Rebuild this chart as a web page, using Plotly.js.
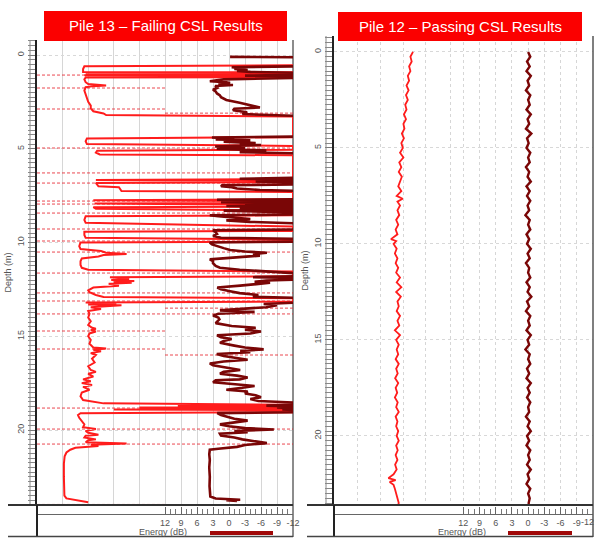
<!DOCTYPE html>
<html>
<head>
<meta charset="utf-8">
<script src="https://cdn.plot.ly/plotly-3.0.1.min.js"></script>
<style>html,body{margin:0;padding:0;background:#fff;}#chart{width:595px;height:539px;}</style>
</head>
<body>
<div id="chart"></div>
<script>
// ---------- DATA ----------
const panelTitles = ["Pile 13 \u2013 Failing CSL Results", "Pile 12 \u2013 Passing CSL Results"];
const depthTicks = [0, 5, 10, 15, 20];
const energyTicks = [12, 9, 6, 3, 0, -3, -6, -9, -12];
const energyTickText = ["12", "9", "6", "3", "0", "-3", "-6", "-9", "-12"];
const energyMinorTicks = [11, 10, 8, 7, 5, 4, 2, 1, -1, -2, -4, -5, -7, -8, -10, -11];

// Pile 13 - first arrival (relative scale 0-10 across the track, 10 = off scale)
const p13FatDepth = [0.55,0.6,0.75,0.9,0.92,0.96,0.98,1.02,1.06,1.08,1.12,1.18,1.2,1.3,1.45,1.55,1.62,1.66,1.72,1.9,2.1,2.3,2.5,2.7,2.85,3.0,3.12,3.2,3.28,
 4.38,4.45,4.6,4.75,4.85,
 5.05,5.1,5.2,5.3,5.35,
 6.62,6.67,6.72,6.78,6.82,6.9,7.0,7.05,7.15,7.25,7.3,
 7.7,7.75,7.8,7.88,7.92,8.0,8.08,8.12,8.2,8.3,
 8.55,8.6,8.8,8.95,9.15,
 9.38,9.42,9.6,9.75,9.85,
 9.95,10.0,10.2,10.35,10.45,10.55,10.62,10.67,10.75,10.85,11.0,11.2,11.35,11.45,11.55,
 11.8,11.85,11.95,12.0,12.05,12.1,12.15,12.2,12.3,12.4,12.55,12.65,12.8,12.9,12.97,
 13.15,13.2,13.25,13.3,13.35,13.45,13.55,13.65,13.8,14.0,14.2,14.4,14.55,14.6,14.68,14.75,14.85,15.0,15.2,15.4,15.6,15.65,15.72,15.8,15.9,16.0,16.2,16.4,16.6,16.8,16.9,17.0,17.15,17.3,17.4,17.5,17.6,17.7,17.85,18.0,18.2,18.4,18.5,18.58,18.65,
 18.72,18.76,18.8,18.85,18.9,18.95,19.05,19.1,19.2,19.35,19.5,19.7,19.85,19.95,20.05,20.15,20.25,20.3,20.4,20.5,20.55,20.65,20.72,20.78,20.85,20.95,21.05,21.2,21.4,21.8,22.5,23.0,23.5,23.65,23.8,23.85];
const p13FatValue = [10,1.85,1.8,1.8,10,10,1.9,10,10,1.85,10,10,1.9,1.85,1.9,2.0,2.7,2.2,1.9,1.85,1.9,1.95,2.0,2.1,2.1,2.2,2.6,2.7,10,
 10,1.95,1.9,1.95,10,
 10,2.35,2.3,2.45,10,
 10,2.3,10,10,2.3,2.35,2.4,3.2,3.25,3.3,10,
 10,2.2,10,10,2.25,10,10,2.2,2.3,10,
 10,1.9,1.85,1.9,10,
 10,1.85,1.85,1.9,10,
 10,1.7,1.65,1.7,2.5,2.7,3.5,2.6,2.4,1.75,1.7,1.7,1.75,2.0,10,
 10,2.85,3.6,2.9,3.8,3.0,3.7,2.8,3.2,2.2,2.0,2.05,2.3,2.6,10,
 10,1.9,3.1,2.0,3.3,2.1,2.5,2.0,2.05,2.0,2.1,2.0,2.15,2.3,2.1,2.3,2.05,2.0,2.1,2.05,2.2,2.7,2.2,2.5,2.1,2.3,2.15,2.25,2.0,2.1,2.3,2.0,2.2,1.8,2.1,1.75,2.15,1.8,2.05,1.75,1.7,1.8,2.3,2.6,10,
 5.5,10,4.0,10,3.0,10,10,1.7,1.6,1.65,1.75,1.85,1.8,2.3,1.9,2.0,2.4,1.9,1.85,2.3,2.0,1.9,3.5,2.1,2.4,1.5,1.3,1.15,1.08,1.05,1.05,1.06,1.07,1.15,1.9,2.0];

// Pile 13 - energy (dB)
const p13EnergyDepth = [0.1,0.12,
 0.6,0.65,0.7,0.75,0.8,0.85,0.9,0.95,1.05,1.1,1.15,1.22,1.3,1.4,1.45,1.5,1.55,1.6,1.65,1.75,1.85,1.95,2.05,2.15,2.25,2.4,2.55,2.7,2.8,2.87,2.95,3.05,3.15,3.25,
 4.35,4.4,4.45,4.5,4.55,4.62,4.7,4.75,4.8,4.88,4.95,5.0,5.1,5.18,5.25,
 6.55,6.6,6.65,6.7,6.75,6.8,6.9,6.95,7.0,7.05,7.12,7.2,7.25,
 7.7,7.72,7.75,7.8,7.85,7.9,7.95,8.0,8.05,8.1,8.15,8.2,8.25,8.3,8.35,8.4,
 8.5,8.55,8.6,8.68,8.75,8.82,8.9,8.98,
 9.3,9.35,9.45,9.55,9.65,9.75,9.8,
 9.95,10.0,10.1,10.2,10.3,10.4,10.48,10.55,10.62,10.7,10.8,10.9,11.0,11.1,11.25,11.35,11.45,11.55,11.65,
 11.8,11.85,11.9,11.98,12.03,12.1,12.15,12.22,12.3,12.4,12.5,12.6,12.7,12.8,12.9,12.95,
 13.2,13.28,13.35,13.45,13.55,13.62,13.7,13.8,13.9,14.0,14.1,14.2,14.3,14.45,14.55,14.65,14.75,14.85,14.95,15.05,15.15,15.25,15.35,15.5,15.6,15.7,15.78,15.85,15.95,16.05,16.15,16.25,16.35,16.45,16.55,16.7,16.8,16.9,17.0,17.1,17.2,17.3,17.35,17.45,17.55,17.65,17.75,17.85,17.95,18.05,18.15,18.25,18.35,18.45,18.55,
 18.65,18.7,18.75,18.8,18.85,18.9,18.95,19.05,19.1,19.2,19.3,19.4,19.5,19.6,19.7,19.8,19.9,19.97,20.05,20.12,20.2,20.3,20.4,20.5,20.6,20.7,20.8,20.9,21.0,21.05,21.3,21.6,22.0,22.5,23.0,23.4,23.55,23.65,23.72,23.75,23.78];
const p13EnergyDb = [-0.2,-13,
 -13,-0.5,-2.5,-1,-3.5,-1.5,-4,-13,-13,-3,-13,-13,1.0,3.6,0.5,-0.2,2.0,-0.75,2.6,2.2,3.0,2.5,2.25,1.7,1.5,0.5,-2.0,-4.0,-5.8,-1.0,-0.75,-3.4,-2.5,-13,
 -13,3.2,-1.0,2.5,-4.0,1.0,-5.0,-2.0,-6.0,2.6,-3.0,2.3,-7.0,-2.0,-13,
 -13,-2.0,-13,-13,-5,-13,-13,1.3,1.5,-0.5,-1.5,-5.8,-13,
 -13,2.25,-13,-9,1.5,-13,-3,-13,0.5,-8,-13,-2,-13,1.0,-6,-13,
 -13,3.6,2.0,-2.0,-4.0,0.5,-3.9,-13,
 -13,3.0,2.5,2.25,3.0,1.5,-13,
 -13,3.6,3.2,2.25,1.0,-0.2,-3,-7.1,-4.5,-5.8,-1,3.6,3.0,3.0,2.5,1.7,-2,-7.1,-13,
 -13,-4.5,-13,-13,-7.0,-4.8,-7.7,-5.5,-2.1,2.2,1.5,-0.2,-2,-5.5,-4.5,-13,
 -13,-6.5,-9.0,-7.0,-1.0,1.7,-4.8,2.0,3.0,2.0,1.8,2.2,2.5,-0.5,-5.0,-3.0,-6.0,-4.0,2.25,1.5,-0.5,1.0,1.7,-1.0,-3.0,-6.5,-2.1,-4.0,2.3,1.0,-1.0,-3.5,1.0,3.6,3.0,-0.5,-2.1,1.0,1.7,-1.5,-3.5,-2.0,2.5,3.0,-1.0,-4.8,-2.5,0.5,-3.5,-3.0,-5.0,-6.0,-4.0,-5.5,-13,
 -13,-7,-13,-9,-13,-10,-13,-13,2.2,1.5,0.0,-1.0,-3.5,-1.0,1.7,0.0,-3.0,-8.4,-1.0,-3.5,1.7,1.5,-1.0,-2.5,-5.0,-7.1,-3.0,-1.5,2.0,3.6,3.7,3.6,3.7,3.6,3.65,3.6,3.5,2.5,-2.1,0.5,-1.5];

// Pile 13 - flagged anomaly depths (m) and the part of the track they cover
const p13FlagDepth = [1.07,1.76,2.88,3.1,4.96,6.29,6.83,7.79,7.95,8.43,9.28,9.92,10.51,11.63,12.69,13.12,13.5,13.81,14.72,15.68,16.0,18.83,19.95,20.75,23.97];
const p13FlagFrom  = [0,0,0,5,0,0,0,0,0,0,0,0,0,0,0,0,5,0,0,0,5,0,0,0,0];
const p13FlagTo    = [10,5,5,10,10,10,10,10,10,10,10,10,10,10,10,10,10,10,5,5,10,10,10,10,5];

// Pile 12 - first arrival
const p12FatDepth = [0,0.25,0.5,0.75,1,1.25,1.5,1.75,2,2.25,2.5,2.75,3,3.25,3.5,3.75,4,4.25,4.5,4.75,5,5.25,5.5,5.75,6,6.25,6.5,6.75,7,7.25,7.5,7.65,7.8,
 8,8.25,8.5,8.75,9,9.25,9.5,9.75,9.85,
 10,10.25,10.5,10.75,11,11.25,11.5,11.75,12,12.25,12.5,12.75,13,13.25,13.5,13.75,14,14.25,14.5,14.75,15,15.25,15.5,15.75,16,16.25,16.5,16.75,17,17.25,17.5,17.75,18,18.25,18.5,18.75,19,19.25,19.5,19.75,20,20.25,20.5,20.75,21,21.25,21.5,21.75,22,
 22.2,22.3,22.4,22.55,22.75,23,23.25,23.5,23.7];
const p12FatValue = [3.05,2.95,3.0,2.9,2.95,2.85,2.9,2.8,2.88,2.78,
 2.85,2.75,2.8,2.7,2.78,2.68,2.72,2.62,2.7,2.6,
 2.66,2.55,2.68,2.52,2.6,2.5,2.62,2.55,2.48,2.6,
 2.42,2.65,2.45,2.55,2.45,2.52,2.4,2.48,2.38,2.45,
 2.2,2.4,2.3,2.42,2.35,2.45,2.38,2.48,2.4,2.55,
 2.42,2.6,2.4,2.58,2.45,2.5,2.42,2.55,2.45,2.52,
 2.35,2.55,2.4,2.5,2.42,2.48,2.38,2.5,2.4,2.46,
 2.36,2.48,2.38,2.44,2.35,2.46,2.4,2.5,2.38,2.45,
 2.4,2.48,2.42,2.5,2.4,2.46,2.38,2.45,2.36,2.42,
 2.3,2.1,2.38,2.15,2.3,2.35,2.4,2.45,2.5,2.45];

// Pile 12 - energy (dB)
const p12EnergyDepth = [0,0.25,0.5,0.75,1,1.25,1.5,1.75,2,2.25,2.5,2.75,3,3.25,3.5,3.75,4,4.25,4.5,4.75,5,5.25,5.5,5.75,
 6,6.25,6.5,6.75,7,7.25,7.5,7.75,8,8.25,8.5,8.75,9,9.25,9.5,9.75,10,10.25,10.5,10.75,11,11.25,11.5,11.75,
 12,12.25,12.5,12.75,13,13.25,13.5,13.75,14,14.25,14.5,14.75,15,15.25,15.5,15.75,16,16.25,16.5,16.75,17,17.25,17.5,17.75,
 18,18.25,18.5,18.75,19,19.25,19.5,19.75,20,20.25,20.5,20.75,21,21.25,21.5,21.75,22,22.25,22.5,22.75,23,23.25,23.5,23.75];
const p12EnergyDb = [0.0,-0.4,0.2,-0.3,0.3,-0.5,0.1,-0.2,0.4,-0.4,0.0,-0.3,
 0.3,-0.5,0.1,-0.2,0.4,-0.6,0.2,-0.1,0.3,-0.4,0.0,-0.3,
 0.4,-0.2,0.1,-0.5,0.3,-0.3,0.2,-0.4,0.1,-0.2,0.5,-0.3,
 0.0,-0.4,0.3,-0.2,0.2,-0.5,0.1,-0.3,0.4,-0.2,0.0,-0.4,
 0.3,-0.3,0.1,-0.6,0.2,-0.2,0.4,-0.4,0.0,-0.3,0.3,-0.5,
 0.1,-0.2,0.5,-0.3,0.0,-0.4,0.2,-0.2,0.3,-0.5,0.1,-0.3,
 0.2,-0.4,0.0,-0.2,0.4,-0.3,0.1,-0.5,0.2,-0.2,0.3,-0.4,
 0.0,-0.3,0.2,-0.5,0.1,-0.2,0.3,-0.4,0.0,-0.3,-0.1,-0.2];

// ---------- STYLE / LAYOUT ----------
const W = 595, H = 539;
const px = v => v / W;
const py = v => 1 - v / H;
const RED = '#ff1c1c', DARK = '#7a0606', GRID = '#d6d6d6', TXT = '#555';
const FONT = 'Liberation Sans, Arial, sans-serif';

const flagX = [], flagY = [];
p13FlagDepth.forEach((d, i) => { flagX.push(p13FlagFrom[i], p13FlagTo[i], null); flagY.push(d, d, null); });

const traces = [
  {x: flagX, y: flagY, xaxis: 'x', yaxis: 'y', mode: 'lines', hoverinfo: 'skip',
   line: {color: 'rgba(232,40,50,0.85)', width: 1, dash: '3px,2px'}},
  {x: p13FatValue, y: p13FatDepth, xaxis: 'x', yaxis: 'y', mode: 'lines', line: {color: RED, width: 2}},
  {x: p13EnergyDb, y: p13EnergyDepth, xaxis: 'x2', yaxis: 'y', mode: 'lines', line: {color: DARK, width: 2.6}},
  {x: p12FatValue, y: p12FatDepth, xaxis: 'x3', yaxis: 'y2', mode: 'lines', line: {color: RED, width: 1.8}},
  {x: p12EnergyDb, y: p12EnergyDepth, xaxis: 'x4', yaxis: 'y2', mode: 'lines', line: {color: DARK, width: 2.4}}
];

function fatAxis(dom, grid, dash, anchor) {
  return {domain: dom, range: [0, 10], anchor: anchor, tickmode: 'array', tickvals: grid,
    showticklabels: false, ticks: '', showgrid: true, gridcolor: GRID, gridwidth: 1, griddash: dash,
    zeroline: false, showline: false, fixedrange: true};
}
function energyAxis(over, range, dash, labels) {
  return {overlaying: over, range: range, anchor: 'free', position: py(514),
    tickmode: 'array', tickvals: energyTicks, ticktext: labels,
    ticks: 'inside', ticklen: 7, tickcolor: '#666', tickwidth: 1,
    tickfont: {family: FONT, size: 9, color: TXT},
    minor: {tickmode: 'array', tickvals: energyMinorTicks, ticks: 'inside', ticklen: 5, tickcolor: '#777', showgrid: false},
    showgrid: true, gridcolor: GRID, gridwidth: 1, griddash: dash,
    showline: true, linecolor: '#666', linewidth: 1, zeroline: false, fixedrange: true};
}
function depthAxis(dom, range, anchor) {
  return {domain: dom, range: range, anchor: anchor, tickmode: 'array', tickvals: depthTicks,
    ticks: 'outside', ticklen: 7, tickcolor: '#777', tickwidth: 1,
    minor: {dtick: 0.25, tick0: 0, ticks: 'outside', ticklen: 7, tickcolor: '#888', tickwidth: 1, showgrid: false},
    tickangle: -90, tickfont: {family: FONT, size: 9, color: TXT},
    showline: true, linecolor: '#222', linewidth: 2, showgrid: true, gridcolor: '#d8d8d8', griddash: 'dot',
    zeroline: false, fixedrange: true,
    title: {text: 'Depth (m)', font: {family: FONT, size: 9, color: TXT}, standoff: 3}};
}

// right track: last label sits on the page edge, so it is written as an annotation kept inside the page
const rightTickText = energyTickText.slice(0, -1).concat(['']);

const shapes = [];
function line(x0, y0, x1, y1, color, width, layer) {
  shapes.push({type: 'line', xref: 'paper', yref: 'paper', x0: px(x0), y0: py(y0), x1: px(x1), y1: py(y1),
    line: {color: color, width: width}, layer: layer || 'above'});
}
function rect(x0, y0, x1, y1, color) {
  shapes.push({type: 'rect', xref: 'paper', yref: 'paper', x0: px(x0), y0: py(y0), x1: px(x1), y1: py(y1),
    fillcolor: color, line: {width: 0}, layer: 'above'});
}
// Pile 13 frame
line(30, 40, 30, 505, '#888', 1);
line(293, 40, 293, 537, '#666', 1.5, 'below');
line(8, 505, 293, 505, '#333', 2);
line(37, 505, 37, 537, '#222', 2);
line(8, 536.5, 293, 536.5, '#444', 1.5);
rect(210, 531, 273, 535, '#a00808');
// Pile 12 frame
line(326, 36, 326, 505, '#888', 1);
line(593, 36, 593, 537, '#555', 1.5);
line(307, 505, 593, 505, '#333', 2);
line(334, 505, 334, 537, '#222', 2);
line(307, 536.5, 593, 536.5, '#444', 1.5);
rect(508, 531, 572, 535, '#a00808');
// title boxes
rect(44, 11, 287, 41, '#fb0000');
rect(338, 12, 582, 41, '#fb0000');

const annotations = [
  {text: panelTitles[0], xref: 'paper', yref: 'paper', x: px(165.5), y: py(26), showarrow: false,
   font: {family: FONT, size: 15, color: '#ffffff'}, xanchor: 'center', yanchor: 'middle'},
  {text: panelTitles[1], xref: 'paper', yref: 'paper', x: px(460), y: py(26.5), showarrow: false,
   font: {family: FONT, size: 15, color: '#ffffff'}, xanchor: 'center', yanchor: 'middle'},
  {text: 'Energy (dB)', xref: 'paper', yref: 'paper', x: px(163), y: py(532), showarrow: false,
   font: {family: FONT, size: 9, color: TXT}, xanchor: 'center', yanchor: 'middle'},
  {text: 'Energy (dB)', xref: 'paper', yref: 'paper', x: px(462), y: py(532), showarrow: false,
   font: {family: FONT, size: 9, color: TXT}, xanchor: 'center', yanchor: 'middle'},
  {text: energyTickText[energyTickText.length - 1], xref: 'paper', yref: 'paper', x: px(595), y: py(522), showarrow: false,
   font: {family: FONT, size: 9, color: TXT}, xanchor: 'right', yanchor: 'middle', borderpad: 0}
];

const layout = {
  width: W, height: H, margin: {l: 0, r: 0, t: 0, b: 0, pad: 0},
  paper_bgcolor: '#ffffff', plot_bgcolor: 'rgba(0,0,0,0)', showlegend: false,
  font: {family: FONT},
  xaxis: fatAxis([px(37), px(293)], [1, 2, 3, 4], 'solid', 'y'),
  xaxis2: energyAxis('x', [36, -12], 'solid', energyTickText),
  xaxis3: fatAxis([px(334), px(593)], [0.89, 1.78, 2.67, 3.55, 4.48], 'dot', 'y2'),
  xaxis4: energyAxis('x3', [35.9, -12], 'dot', rightTickText),
  yaxis: depthAxis([py(505), py(40)], [24.0, -0.8], 'x'),
  yaxis2: depthAxis([py(505), py(36)], [23.6, -0.83], 'x3'),
  shapes: shapes, annotations: annotations
};

Plotly.newPlot('chart', traces, layout, {displayModeBar: false, staticPlot: true});
</script>
</body>
</html>
